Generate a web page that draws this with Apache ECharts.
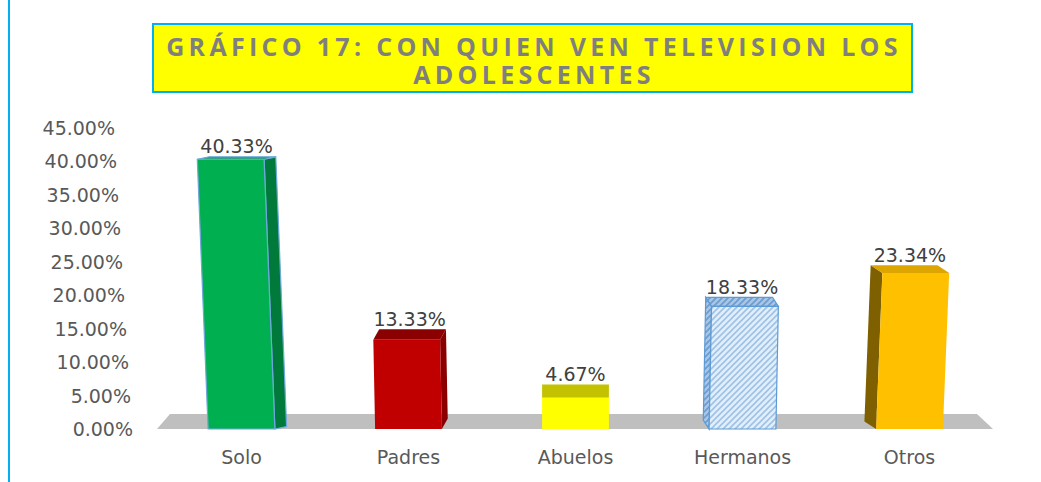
<!DOCTYPE html>
<html>
<head>
<meta charset="utf-8">
<script src="https://cdn.jsdelivr.net/npm/echarts@6/dist/echarts.min.js"></script>
<style>
  html, body { margin: 0; padding: 0; background: #fff; }
  #chart { width: 1041px; height: 482px; }
  /* title uses its own font so it can be spaced out like the original */
  #chart text[style*="Open Sans"] { letter-spacing: 4.3px; }
</style>
</head>
<body>
<div id="chart"></div>
<script>
// data
var categories = ["Solo", "Padres", "Abuelos", "Hermanos", "Otros"];
var values = [40.33, 13.33, 4.67, 18.33, 23.34];
var yTicks = [0, 5, 10, 15, 20, 25, 30, 35, 40, 45];
var titleText = "GRÁFICO 17: CON QUIEN VEN TELEVISION LOS\nADOLESCENTES";

// hatch pattern for Hermanos
function makeHatch(bg, line) {
  var c = document.createElement("canvas");
  c.width = 6;
  c.height = 6;
  var ctx = c.getContext("2d");
  ctx.fillStyle = bg;
  ctx.fillRect(0, 0, 6, 6);
  ctx.strokeStyle = line;
  ctx.lineWidth = 1.6;
  ctx.beginPath();
  ctx.moveTo(-1, 7); ctx.lineTo(7, -1);
  ctx.moveTo(-1, 1); ctx.lineTo(1, -1);
  ctx.moveTo(5, 7); ctx.lineTo(7, 5);
  ctx.stroke();
  return { type: "pattern", image: c, repeat: "repeat", imageWidth: 6, imageHeight: 6 };
}

var hatch = makeHatch("#E4EEF9", "#9CC2E8");
var hatchDark = makeHatch("#A9C6E4", "#6C9BCF");

var faceColors = ["#00B050", "#C00000", "#FFFF00", hatch, "#FFC000"];
var sideColors = ["#007A3A", "#8A0000", "#BDBD00", hatchDark, "#7F6000"];
var topColors = ["#009C46", "#8B0000", "#C2C200", hatchDark, "#DDA500"];
var strokeColors = ["#6FA8DC", null, null, "#5B9BD5", null];

var chart = echarts.init(document.getElementById("chart"), null, { renderer: "svg" });

var rich = {};
yTicks.forEach(function (t) {
  rich["p" + t] = {
    fontFamily: "DejaVu Sans",
    fontSize: 19,
    color: "#595959",
    padding: [0, Math.round((t / 45) * 18), 0, 0]
  };
});

function renderFloor(params, api) {
  var cs = params.coordSys;
  var y = api.coord([0, 0])[1];
  return {
    type: "polygon",
    shape: {
      points: [
        [cs.x - 1, y],
        [cs.x + cs.width, y],
        [cs.x + cs.width - 16, y - 15],
        [cs.x + 12, y - 15]
      ]
    },
    style: { fill: "#BFBFBF" }
  };
}

function renderBar(params, api) {
  var i = params.dataIndex;
  var cs = params.coordSys;
  var base = api.coord([api.value(0), 0]);
  var top = api.coord([api.value(0), api.value(1)]);
  var bw = api.size([1, 0])[0] * 0.40;
  var mid = cs.x + cs.width / 2;
  var cx = base[0];
  var h = base[1] - top[1];
  var lean = (cx - mid) * h * 0.00012;
  var dx = (mid - cx) * 0.035;
  var dy = 2 + (top[1] - 150) * 0.045;

  var BL = [cx - bw / 2, base[1]];
  var BR = [cx + bw / 2, base[1]];
  var TL = [cx - bw / 2 + lean, top[1]];
  var TR = [cx + bw / 2 + lean, top[1]];
  function back(p) { return [p[0] + dx, p[1] - dy]; }

  var stroke = strokeColors[i];
  var st = function (fill) {
    return stroke ? { fill: fill, stroke: stroke, lineWidth: 1.2 } : { fill: fill };
  };

  var children = [];
  if (dx > 1) {
    children.push({ type: "polygon", shape: { points: [TR, back(TR), back(BR), BR] }, style: st(sideColors[i]) });
  } else if (dx < -1) {
    children.push({ type: "polygon", shape: { points: [TL, back(TL), back(BL), BL] }, style: st(sideColors[i]) });
  }
  children.push({ type: "polygon", shape: { points: [TL, TR, back(TR), back(TL)] }, style: st(topColors[i]) });
  children.push({ type: "polygon", shape: { points: [BL, BR, TR, TL] }, style: st(faceColors[i]) });
  children.push({
    type: "text",
    style: {
      x: cx + lean + dx / 2,
      y: top[1] - dy - 1,
      text: api.value(1).toFixed(2) + "%",
      fill: "#404040",
      font: '19px "DejaVu Sans"',
      align: "center",
      verticalAlign: "bottom"
    }
  });
  return { type: "group", children: children };
}

var option = {
  backgroundColor: "#fff",
  animation: false,
  grid: { left: 158, right: 48, top: 128, bottom: 53 },
  xAxis: {
    type: "category",
    data: categories,
    axisLine: { show: false },
    axisTick: { show: false },
    axisLabel: { margin: 18, fontFamily: "DejaVu Sans", fontSize: 19, color: "#595959" }
  },
  yAxis: {
    type: "value",
    min: 0,
    max: 45,
    interval: 5,
    splitLine: { show: false },
    axisLine: { show: false },
    axisTick: { show: false },
    axisLabel: {
      margin: 25,
      formatter: function (v) { return "{p" + v + "|" + v.toFixed(2) + "%}"; },
      rich: rich
    }
  },
  graphic: [
    {
      type: "line",
      shape: { x1: 9, y1: 0, x2: 9, y2: 482 },
      style: { stroke: "#00B0F0", lineWidth: 2 }
    },
    {
      type: "rect",
      shape: { x: 153, y: 24, width: 759, height: 68 },
      style: { fill: "#FFFF00", stroke: "#00B0F0", lineWidth: 2 }
    },
    {
      type: "text",
      x: 534,
      y: 60,
      style: {
        text: titleText,
        font: 'bold 25px "Open Sans"',
        fill: "#7F7F7F",
        align: "center",
        verticalAlign: "middle",
        lineHeight: 28
      }
    }
  ],
  series: [
    {
      type: "custom",
      name: "floor",
      renderItem: renderFloor,
      data: [[0, 0]],
      z: 1,
      silent: true
    },
    {
      type: "custom",
      name: "valores",
      renderItem: renderBar,
      data: values.map(function (v, i) { return [i, v]; }),
      z: 2
    }
  ]
};

chart.setOption(option);
</script>
</body>
</html>
